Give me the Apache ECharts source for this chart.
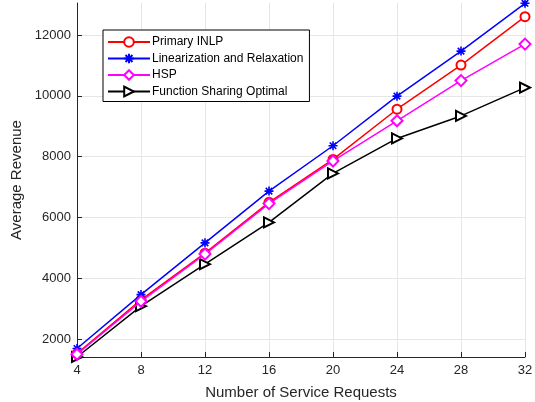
<!DOCTYPE html>
<html>
<head>
<meta charset="utf-8">
<script src="https://cdn.jsdelivr.net/npm/echarts@6/dist/echarts.min.js"></script>
<style>
html, body { margin: 0; padding: 0; background: #fff; }
#main { width: 535px; height: 402px; }
</style>
</head>
<body>
<div id="main"></div>
<script>
// service requests on the x axis
var requests = [4, 8, 12, 16, 20, 24, 28, 32];

// average revenue
var primaryInlp = [1530, 3300, 4830, 6500, 7910, 9560, 11010, 12600];
var linRelax = [1700, 3470, 5170, 6870, 8360, 9990, 11470, 13040];
var hsp = [1510, 3250, 4800, 6460, 7860, 9180, 10500, 11700];
var fsOptimal = [1420, 3090, 4470, 5840, 7450, 8600, 9340, 10270];

var yTicks = [2000, 4000, 6000, 8000, 10000, 12000];
var xTicks = [4, 8, 12, 16, 20, 24, 28, 32];

function pairs(vals) {
	var out = [];
	for (var i = 0; i < requests.length; i++) {
		out.push([requests[i], vals[i]]);
	}
	return out;
}

var axisColor = '#262626';
var gridColor = '#e6e6e6';
var font = 'Liberation Sans, Arial, Helvetica, sans-serif';

var myChart = echarts.init(document.getElementById('main'));

var option = {
	animation : false,
	textStyle : { fontFamily : font },
	grid : {
		left : 77,
		right : 10,
		top : 3,
		bottom : 45,
		containLabel : false,
		outerBoundsMode : 'none'
	},
	legend : {
		orient : 'vertical',
		left : 103,
		top : 30,
		padding : [6, 6, 4, 4],
		itemGap : 4.5,
		itemWidth : 42,
		itemHeight : 12,
		backgroundColor : '#fff',
		borderColor : '#000',
		borderWidth : 1,
		textStyle : { fontSize : 12, color : '#000', fontFamily : font, padding : [0, 0, 0, -3] },
		data : [ 'Primary INLP', 'Linearization and Relaxation', 'HSP', 'Function Sharing Optimal' ]
	},
	xAxis : {
		type : 'value',
		min : 4,
		max : 32,
		interval : 4,
		name : 'Number of Service Requests',
		nameLocation : 'middle',
		nameGap : 28,
		nameTextStyle : { fontSize : 15, color : axisColor, fontFamily : font },
		axisLine : { lineStyle : { color : axisColor, width : 1 } },
		axisTick : { inside : true, length : 5, lineStyle : { color : axisColor } },
		axisLabel : { fontSize : 13, color : axisColor, margin : 7, customValues : xTicks },
		splitLine : { show : true, lineStyle : { color : gridColor, width : 1 } }
	},
	yAxis : {
		type : 'value',
		min : 1420,
		max : 13050,
		name : 'Average Revenue',
		nameLocation : 'middle',
		nameGap : 43,
		nameTextStyle : { fontSize : 15, color : axisColor, fontFamily : font },
		axisLine : { show : true, lineStyle : { color : axisColor, width : 1 } },
		axisTick : { show : true, inside : true, length : 5, lineStyle : { color : axisColor }, customValues : yTicks },
		axisLabel : {
			fontSize : 13,
			color : axisColor,
			margin : 6,
			customValues : yTicks,
			formatter : function(v) { return String(v); }
		},
		splitLine : { show : true, lineStyle : { color : gridColor, width : 1 }, customValues : yTicks }
	},
	series : [ {
		name : 'Primary INLP',
		type : 'line',
		data : pairs(primaryInlp),
		symbol : 'emptyCircle',
		symbolSize : 9,
		itemStyle : { color : '#ff0000', borderWidth : 1.5 },
		lineStyle : { color : '#ff0000', width : 1.5 },
		z : 3
	}, {
		name : 'Linearization and Relaxation',
		type : 'line',
		data : pairs(linRelax),
		symbol : 'path://M0,-5L0,5M-5,0L5,0M-3.6,-3.6L3.6,3.6M-3.6,3.6L3.6,-3.6',
		symbolSize : 9,
		itemStyle : { color : '#0000ff', borderColor : '#0000ff', borderWidth : 1.6 },
		lineStyle : { color : '#0000ff', width : 1.5 },
		z : 4
	}, {
		name : 'HSP',
		type : 'line',
		data : pairs(hsp),
		symbol : 'emptyDiamond',
		symbolSize : 11,
		itemStyle : { color : '#ff00ff', borderWidth : 1.5 },
		lineStyle : { color : '#ff00ff', width : 1.5 },
		z : 5
	}, {
		name : 'Function Sharing Optimal',
		type : 'line',
		data : pairs(fsOptimal),
		symbol : 'emptyTriangle',
		symbolRotate : -90,
		symbolSize : 10,
		itemStyle : { color : '#000000', borderWidth : 1.5 },
		lineStyle : { color : '#000000', width : 1.5 },
		z : 2
	} ]
};
myChart.setOption(option);
</script>
</body>
</html>
